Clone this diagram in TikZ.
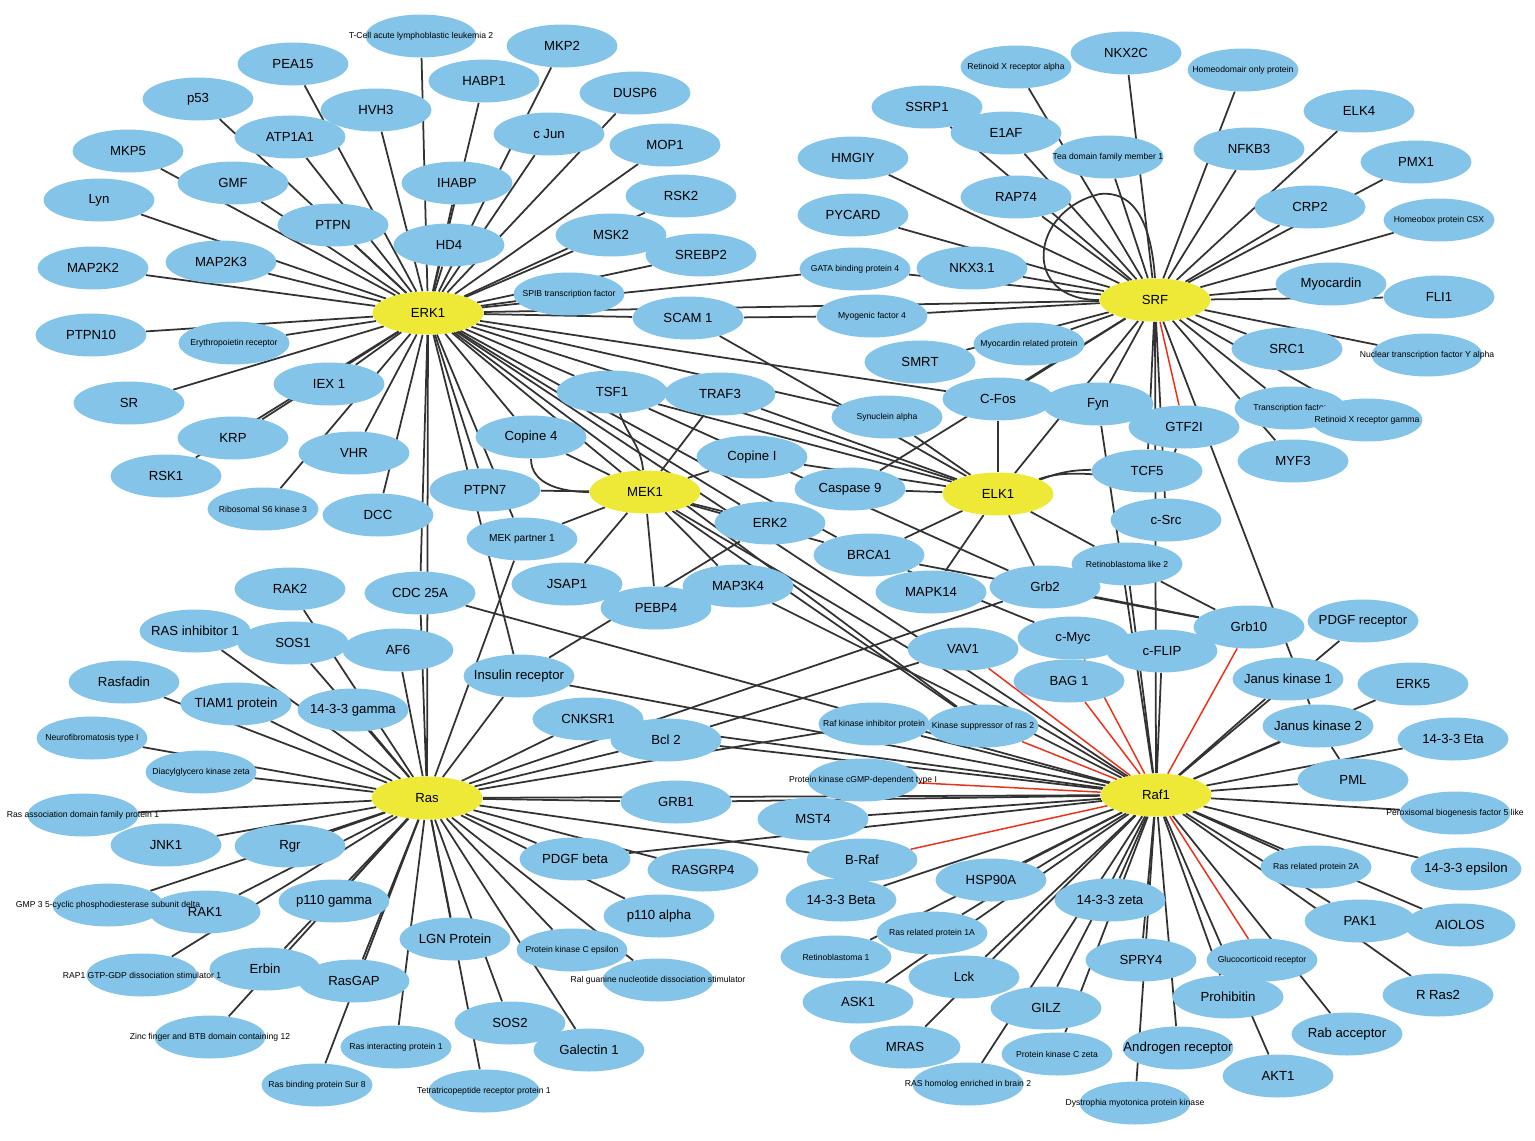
\documentclass[tikz,border=0pt]{standalone}
\usepackage{fontspec}
\setmainfont{Liberation Sans}
\usetikzlibrary{shapes.geometric}
\definecolor{protblue}{RGB}{132,196,232}
\definecolor{hubyellow}{RGB}{238,233,55}
\definecolor{linkgray}{RGB}{50,50,50}
\definecolor{linkred}{RGB}{235,50,25}
\newcommand{\lbig}{\fontsize{7.5}{9}\selectfont}
\newcommand{\lsmall}{\fontsize{4.9}{6}\selectfont}
\newcommand{\lmid}{\fontsize{5.8}{7}\selectfont}
\pgfdeclarelayer{background}
\pgfsetlayers{background,main}

\begin{document}
\begin{tikzpicture}[x=0.02cm,y=-0.02cm,
	prot/.style={ellipse,fill=protblue,minimum width=2.22cm,minimum height=0.86cm,inner sep=0pt},
	hub/.style={prot,fill=hubyellow},
	link/.style={draw=linkgray,line width=1pt},
	redlink/.style={draw=linkred,line width=0.85pt}]
		\useasboundingbox (0,0) rectangle (1535,1140);
		% proteins
		\foreach \nm/\x/\y/\fnt/\lab in {tcell/421/36/\lsmall/T-Cell acute lymphoblastic leukemia 2,
			pea/293/64/\lbig/PEA15,mkp2/562/46/\lbig/MKP2,p53/198/99/\lbig/p53,habp/484/81/\lbig/HABP1,
			dusp/635/93/\lbig/DUSP6,hvh/376/110/\lbig/HVH3,atp/290/137/\lbig/ATP1A1,cjun/549/134/\lbig/c Jun,
			mop/665/145/\lbig/MOP1,mkp5/128/151/\lbig/MKP5,gmf/233/183/\lbig/GMF,ihabp/457/183/\lbig/IHABP,
			lyn/99/200/\lbig/Lyn,rsk2/681/196/\lbig/RSK2,ptpn/333/225/\lbig/PTPN,msk2/611/235/\lbig/MSK2,
			hd4/449/245/\lbig/HD4,srebp/701/255/\lbig/SREBP2,mapkk2/93/268/\lbig/MAP2K2,mapkk3/221/262/\lbig/MAP2K3,
			spib/569/294/\lsmall/SPIB transcription factor,scam/688/318/\lbig/SCAM 1,ptpn10/91/335/\lbig/PTPN10,
			epo/234/343/\lsmall/Erythropoietin receptor,iex/329/384/\lbig/IEX 1,sr/129/403/\lbig/SR,
			krp/233/438/\lbig/KRP,vhr/354/453/\lbig/VHR,rsk1/166/476/\lbig/RSK1,
			rsk3/263/509/\lsmall/Ribosomal S6 kinase 3,dcc/378/515/\lbig/DCC,
			tsf1/612/392/\lbig/TSF1,traf3/720/394/\lbig/TRAF3,cop4/531/437/\lbig/Copine 4,copi/752/457/\lbig/Copine I,
			ptpn7/485/490/\lbig/PTPN7,casp/850/489/\lbig/Caspase 9,erk2/770/523/\lbig/ERK2,
			mekp/522/539/\lmid/MEK partner 1,brca1/869/555/\lbig/BRCA1,jsap/567/584/\lbig/JSAP1,
			map3k4/738/586/\lbig/MAP3K4,pebp/656/608/\lbig/PEBP4,mapk14/931/592/\lbig/MAPK14,cdc/420/593/\lbig/CDC 25A,
			rxra/1016/67/\lsmall/Retinoid X receptor alpha,nkx2c/1126/53/\lbig/NKX2C,
			homeo/1243/70/\lsmall/Homeodomair only protein,ssrp/927/107/\lbig/SSRP1,e1af/1006/133/\lbig/E1AF,
			elk4/1359/111/\lbig/ELK4,tead/1108/157/\lsmall/Tea domain family member 1,nfkb3/1249/149/\lbig/NFKB3,
			hmgiy/853/158/\lbig/HMGIY,pmx1/1416/162/\lbig/PMX1,rap74/1016/197/\lbig/RAP74,crp2/1310/207/\lbig/CRP2,
			csx/1439/220/\lsmall/Homeobox protein CSX,pycard/853/215/\lbig/PYCARD,
			gata/855/269/\lsmall/GATA binding protein 4,nkx31/972/268/\lbig/NKX3.1,myocd/1331/284/\lbig/Myocardin,
			fli1/1439/297/\lbig/FLI1,myf4/872/316/\lsmall/Myogenic factor 4,smrt/920/362/\lbig/SMRT,
			mrtf/1029/344/\lsmall/Myocardin related protein,src1/1287/349/\lbig/SRC1,
			nfya/1427/355/\lsmall/Nuclear transcription factor Y alpha,syn/887/417/\lsmall/Synuclein alpha,
			cfos/998/399/\lbig/C-Fos,fyn/1098/404/\lbig/Fyn,gtf2i/1184/427/\lbig/GTF2I,
			tf/1290/408/\lsmall/Transcription factor,rxrg/1367/420/\lsmall/Retinoid X receptor gamma,
			myf3/1293/461/\lbig/MYF3,tcf5/1147/471/\lbig/TCF5,csrc/1166/520/\lbig/c-Src,grb2/1045/587/\lbig/Grb2,
			rbl2/1127/564/\lsmall/Retinoblastoma like 2,pdgfr/1363/621/\lbig/PDGF receptor,cmyc/1073/638/\lbig/c-Myc,
			cflip/1162/651/\lbig/c-FLIP,grb10/1249/627/\lbig/Grb10,vav1/963/649/\lbig/VAV1,bag1/1069/681/\lbig/BAG 1,
			jak1/1288/679/\lbig/Janus kinase 1,erk5/1413/684/\lbig/ERK5,jak2/1318/726/\lbig/Janus kinase 2,
			eta/1453/739/\lbig/14-3-3 Eta,
			rak2/290/589/\lbig/RAK2,rasi1/195/631/\lbig/RAS inhibitor 1,sos1/293/643/\lbig/SOS1,af6/398/650/\lbig/AF6,
			rasfadin/124/682/\lbig/Rasfadin,tiam/236/704/\lbig/TIAM1 protein,gamma/353/710/\lbig/14-3-3 gamma,
			insr/519/676/\lbig/Insulin receptor,nf1/92/738/\lsmall/Neurofibromatosis type I,cnksr/588/719/\lbig/CNKSR1,
			dgkz/201/772/\lsmall/Diacylglycero kinase zeta,bcl2/666/740/\lbig/Bcl 2,
			rassf/83/815/\lsmall/Ras association domain family protein 1,grb1/676/802/\lbig/GRB1,
			jnk1/166/845/\lbig/JNK1,rgr/290/846/\lbig/Rgr,pdgfb/575/859/\lbig/PDGF beta,rasgrp/703/870/\lbig/RASGRP4,
			rak1/205/912/\lbig/RAK1,gmp/108/905/\lsmall/GMP 3 5-cyclic phosphodiesterase subunit delta,
			p110g/334/901/\lbig/p110 gamma,p110a/659/916/\lbig/p110 alpha,lgn/455/939/\lbig/LGN Protein,
			pkce/572/950/\lsmall/Protein kinase C epsilon,ral/658/980/\lsmall/Ral guanine nucleotide dissociation stimulator,
			erbin/265/969/\lbig/Erbin,rap1/142/975/\lsmall/RAP1 GTP-GDP dissociation stimulator 1,
			rasgap/354/981/\lbig/RasGAP,sos2/510/1023/\lbig/SOS2,gal1/589/1050/\lbig/Galectin 1,
			rasip/396/1047/\lsmall/Ras interacting protein 1,zinc/210/1037/\lsmall/Zinc finger and BTB domain containing 12,
			sur8/317/1085/\lsmall/Ras binding protein Sur 8,tetra/484/1091/\lsmall/Tetratricopeptide receptor protein 1,
			rkip/874/724/\lsmall/Raf kinase inhibitor protein,ksr2/983/726/\lsmall/Kinase suppressor of ras 2,
			pkg/863/780/\lsmall/Protein kinase cGMP-dependent type I,mst4/813/819/\lbig/MST4,braf/862/860/\lbig/B-Raf,
			beta/841/900/\lbig/14-3-3 Beta,hsp90/991/880/\lbig/HSP90A,zeta/1110/900/\lbig/14-3-3 zeta,
			rb1/836/957/\lsmall/Retinoblastoma 1,rap1a/932/933/\lsmall/Ras related protein 1A,lck/964/977/\lbig/Lck,
			spry4/1141/960/\lbig/SPRY4,gluco/1262/960/\lsmall/Glucocorticoid receptor,ask1/858/1002/\lbig/ASK1,
			gilz/1046/1008/\lbig/GILZ,prohib/1228/997/\lbig/Prohibitin,mras/905/1047/\lbig/MRAS,
			pkcz/1057/1054/\lsmall/Protein kinase C zeta,andro/1178/1048/\lbig/Androgen receptor,
			rheb/968/1084/\lsmall/RAS homolog enriched in brain 2,dmpk/1135/1103/\lsmall/Dystrophia myotonica protein kinase,
			akt1/1278/1076/\lbig/AKT1,rab/1347/1034/\lbig/Rab acceptor,rras2/1438/995/\lbig/R Ras2,
			pak1/1360/921/\lbig/PAK1,aiolos/1460/925/\lbig/AIOLOS,rap2a/1316/867/\lsmall/Ras related protein 2A,
			eps/1466/869/\lbig/14-3-3 epsilon,perox/1455/813/\lsmall/Peroxisomal biogenesis factor 5 like,
			pml/1353/780/\lbig/PML} {
			\node[prot] (\nm) at (\x,\y) {};
			\node[font=\fnt] at (\nm) {\lab};
		}
		% hubs
		\foreach \nm/\x/\y/\lab in {erk1/428/313/ERK1,srf/1155/300/SRF,mek1/645/492/MEK1,
			elk1/998/494/ELK1,ras/427/798/Ras,raf1/1156/795/Raf1} {
			\node[hub] (\nm) at (\x,\y) {};
			\node[font=\lbig] at (\nm) {\lab};
		}
		\begin{pgfonlayer}{background}
		\foreach \b in {tcell,pea,mkp2,p53,habp,dusp,hvh,atp,cjun,mop,mkp5,gmf,ihabp,lyn,rsk2,ptpn,msk2,hd4,
			srebp,mapkk2,mapkk3,spib,scam,ptpn10,epo,iex,sr,krp,vhr,rsk1,rsk3,dcc,mek1,elk1,srf,gata,cfos,syn,
			ras,cdc,tsf1,cop4,ptpn7,mekp,erk2,brca1,ksr2,raf1,insr} {
			\draw[link] (erk1) -- (\b);
		}
		\foreach \b in {traf3,copi,ptpn7,mekp,jsap,pebp,map3k4,erk2,brca1,cop4,raf1,ksr2} {
			\draw[link] (mek1) -- (\b);
		}
		\draw[link] (cop4) to[out=-90,in=180] (mek1);
		\draw[link] (tsf1) to[out=-70,in=95] (mek1);
		\foreach \b in {cfos,casp,srf,grb2,brca1,mapk14,tsf1,traf3,syn,rbl2,copi,scam} {
			\draw[link] (elk1) -- (\b);
		}
		\draw[link] (elk1) to[bend left=10] (tcf5);
		\draw[link] (elk1) to[out=20,in=-110] (gtf2i);
		\foreach \b in {rxra,nkx2c,homeo,ssrp,e1af,elk4,tead,nfkb3,hmgiy,pmx1,rap74,crp2,csx,pycard,gata,nkx31,
			myocd,fli1,myf4,smrt,mrtf,src1,nfya,cfos,fyn,tf,rxrg,myf3,tcf5,csrc,casp,jak2,raf1} {
			\draw[link] (srf) -- (\b);
		}
		\draw[link] (srf.west) .. controls (1020,300) and (1030,210) .. (1100,194)
			.. controls (1140,190) and (1152,235) .. (srf.north);
		\draw[redlink] (srf) -- (gtf2i);
		\foreach \b in {rak2,rasi1,sos1,af6,rasfadin,tiam,gamma,nf1,dgkz,rassf,jnk1,rgr,gmp,rak1,p110g,erbin,
			rasgap,rap1,zinc,sur8,rasip,lgn,tetra,sos2,gal1,pkce,ral,p110a,pdgfb,rasgrp,grb1,bcl2,cnksr,insr,
			cdc,braf,raf1,rkip,grb2,mekp} {
			\draw[link] (ras) -- (\b);
		}
		\foreach \b in {jak2,jak1,eta,pml,perox,eps,rap2a,pak1,aiolos,rras2,rab,akt1,prohib,andro,dmpk,spry4,
			zeta,gilz,pkcz,rheb,mras,lck,ask1,rb1,rap1a,hsp90,beta,mst4,grb1,cflip,rbl2,fyn,bcl2,cnksr,rkip,
			map3k4,pdgfb,insr,cdc,erk5,pdgfr} {
			\draw[link] (raf1) -- (\b);
		}
		\foreach \b in {vav1,ksr2,pkg,braf,bag1,cmyc,grb10,gluco} {
			\draw[redlink] (raf1) -- (\b);
		}
		\foreach \a/\b in {pml/jak2,grb2/grb10,rbl2/grb10,brca1/grb10,brca1/cmyc,vav1/bcl2,insr/erk2,
			scam/myf4,tsf1/grb2} {
			\draw[link] (\a) -- (\b);
		}
		\end{pgfonlayer}
\end{tikzpicture}
\end{document}
